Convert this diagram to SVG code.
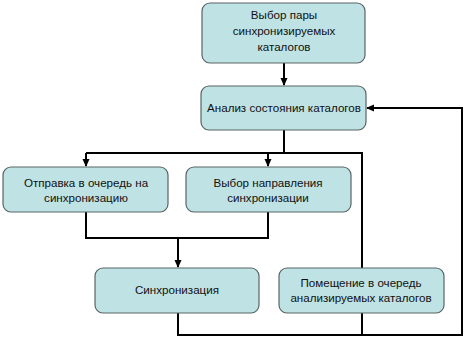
<svg xmlns="http://www.w3.org/2000/svg" width="468" height="338" viewBox="0 0 468 338">
<style>
.box{fill:#bfe2e4;stroke:#5a6466;stroke-width:1.2}
.t{font-family:"Liberation Sans",Arial,sans-serif;font-size:11.6px;fill:#111;text-anchor:middle}
.ln{fill:none;stroke:#000;stroke-width:2}
</style>
<defs>
<marker id="ah" markerWidth="8" markerHeight="8" refX="7" refY="4" orient="auto" markerUnits="userSpaceOnUse">
<path d="M0,0.5 L8,4 L0,7.5 Z" fill="#000"/>
</marker>
</defs>
<rect width="468" height="338" fill="#fff"/>
<g id="connectors">
<path class="ln" d="M284,63 V85" marker-end="url(#ah)"/>
<path class="ln" d="M284,130 V153"/>
<path class="ln" d="M86,153 H362 V268"/>
<path class="ln" d="M86,153 V166" marker-end="url(#ah)"/>
<path class="ln" d="M268,153 V166" marker-end="url(#ah)"/>
<path class="ln" d="M86,212 V238 H268 V212"/>
<path class="ln" d="M178,238 V267" marker-end="url(#ah)"/>
<path class="ln" d="M178,313 V335 H462 V108 H367" marker-end="url(#ah)"/>
<path class="ln" d="M362,313 V335"/>
</g>
<g id="n1">
<rect class="box" x="202" y="3" width="163" height="60" rx="8"/>
<text class="t" x="284" y="19">Выбор пары</text>
<text class="t" x="284" y="35">синхронизируемых</text>
<text class="t" x="284" y="51">каталогов</text>
</g>
<g id="n2">
<rect class="box" x="201" y="86" width="165" height="44" rx="8"/>
<text class="t" x="284" y="112">Анализ состояния каталогов</text>
</g>
<g id="n3">
<rect class="box" x="3" y="167" width="165" height="45" rx="8"/>
<text class="t" x="86" y="187">Отправка в очередь на</text>
<text class="t" x="86" y="202">синхронизацию</text>
</g>
<g id="n4">
<rect class="box" x="186" y="167" width="165" height="45" rx="8"/>
<text class="t" x="268" y="187">Выбор направления</text>
<text class="t" x="268" y="202">синхронизации</text>
</g>
<g id="n5">
<rect class="box" x="95" y="268" width="164" height="45" rx="8"/>
<text class="t" x="177" y="294">Синхронизация</text>
</g>
<g id="n6">
<rect class="box" x="279" y="268" width="165" height="45" rx="8"/>
<text class="t" x="361" y="287">Помещение в очередь</text>
<text class="t" x="361" y="302">анализируемых каталогов</text>
</g>
</svg>
